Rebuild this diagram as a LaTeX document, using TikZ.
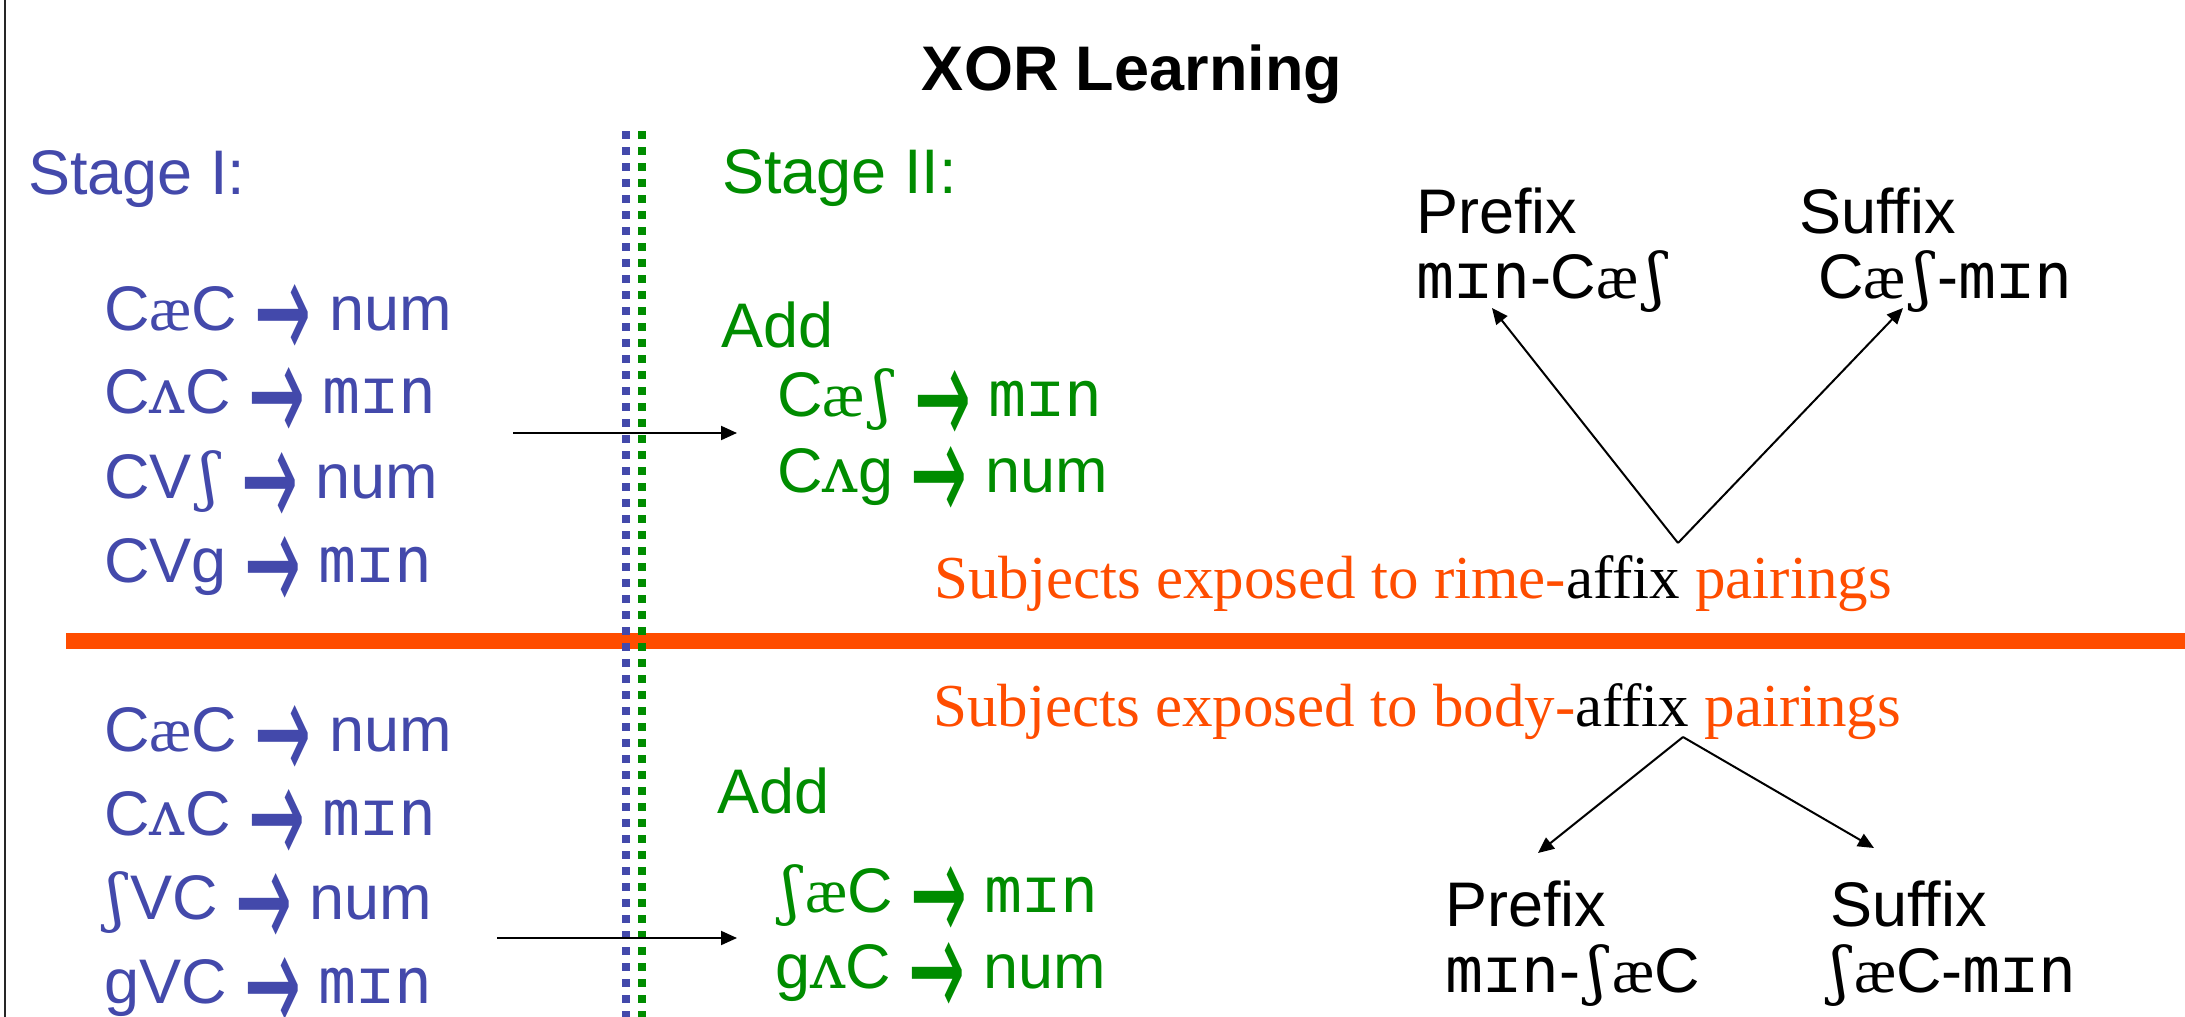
\documentclass[tikz,border=0pt]{standalone}
\usepackage{fontspec}
\usepackage{graphicx}
\setmainfont{Liberation Sans}
\newfontfamily\serifface{Liberation Serif}
\newfontfamily\ipamono{DejaVu Sans Mono}
\newfontfamily\ipaserif{DejaVu Serif}
\newfontfamily\arrowface{DejaVu Sans}
\usetikzlibrary{arrows.meta}

\definecolor{stageblue}{RGB}{67,73,171}
\definecolor{stagegreen}{RGB}{0,140,0}
\definecolor{rimeorange}{RGB}{255,77,0}

% IPA symbols, the affix word and the rule arrow
\newcommand\mIn{{\ipamono mɪn}}
\newcommand\vV{{\ipaserif ʌ}}
\newcommand\vae{{\serifface æ}}
\newcommand\csh{{\kern9pt\ipaserif ʃ\kern6pt}}
\newcommand\yields{\smash{\raisebox{-30pt}{\resizebox{57pt}{76pt}{\arrowface →}}}}

\tikzset{
  lbl/.style={inner sep=0pt, anchor=base west, font=\fontsize{63}{70}\selectfont},
  blue/.style={lbl, text=stageblue},
  green/.style={lbl, text=stagegreen},
  note/.style={inner sep=0pt, anchor=base west, font=\serifface\fontsize{61}{70}\selectfont},
  conn/.style={line width=2pt, -{Triangle[length=16pt,width=14pt]}},
  divider/.style={line width=8pt, dash pattern=on 8pt off 8pt},
}

\begin{document}
\begin{tikzpicture}[x=1pt, y=-1pt]
\fill[white] (0,0) rectangle (2185,1017);
\useasboundingbox (0,0) rectangle (2185,1017);

% frame edge and the horizontal separator
\draw[line width=2pt, black!85] (5,0) -- (5,1017);
\draw[line width=16pt, rimeorange] (66,641) -- (2185,641);

% title
\node[inner sep=0pt, anchor=base, font=\fontsize{63}{70}\selectfont\bfseries] (title) at (1132,90) {XOR Learning};

% stage I
\node[blue] (st1) at (28,194) {Stage I:};
\node[blue] (a1) at (104,330) {C\vae C \yields{} num};
\node[blue] (a2) at (104,413) {C\vV C \yields{} \mIn};
\node[blue] (a3) at (104,498) {CV\csh{} \yields{} num};
\node[blue] (a4) at (104,582) {CVg \yields{} \mIn};
\node[blue] (b1) at (104,751) {C\vae C \yields{} num};
\node[blue] (b2) at (104,835) {C\vV C \yields{} \mIn};
\node[blue] (b3) at (98,919) {\csh VC \yields{} num};
\node[blue] (b4) at (104,1003) {gVC \yields{} \mIn};

% stage II
\node[green] (st2) at (722,193) {Stage II:};
\node[green] (addA) at (721,347) {Add};
\node[green] (c1) at (777,416) {C\vae\csh{} \yields{} \mIn};
\node[green] (c2) at (777,492) {C\vV g \yields{} num};
\node[green] (addB) at (717,813) {Add};
\node[green] (d1) at (773,912) {\csh\vae C \yields{} \mIn};
\node[green] (d2) at (775,988) {g\vV C \yields{} num};

% affix positions
\node[lbl] (preA) at (1416,233) {Prefix};
\node[lbl] (preAw) at (1416,298) {\mIn-C\vae\csh};
\node[lbl] (sufA) at (1799,233) {Suffix};
\node[lbl] (sufAw) at (1818,298) {C\vae\csh-\mIn};
\node[lbl] (preB) at (1445,926) {Prefix};
\node[lbl] (preBw) at (1445,992) {\mIn-\csh\vae C};
\node[lbl] (sufB) at (1830,926) {Suffix};
\node[lbl] (sufBw) at (1822,992) {\csh\vae C-\mIn};

% conditions
\node[note] (rime) at (934,598) {\textcolor{rimeorange}{Subjects exposed to rime-}affix \textcolor{rimeorange}{pairings}};
\node[note] (body) at (933,726) {\textcolor{rimeorange}{Subjects exposed to body-}affix \textcolor{rimeorange}{pairings}};

% stage boundary
\draw[divider, stageblue] (626,131) -- (626,1017);
\draw[divider, stagegreen] (642,131) -- (642,1017);

% connectors
\coordinate (fromA) at (513,433);
\coordinate (toA) at (737,433);
\coordinate (fromB) at (497,938);
\coordinate (toB) at (737,938);
\draw[conn] (fromA) -- (toA);
\draw[conn] (fromB) -- (toB);

\coordinate (apexA) at (1678,543);
\coordinate (tipPreA) at (1492,308);
\coordinate (tipSufA) at (1903,308);
\draw[conn] (apexA) -- (tipPreA);
\draw[conn] (apexA) -- (tipSufA);

\coordinate (apexB) at (1683,737);
\coordinate (tipPreB) at (1538,853);
\coordinate (tipSufB) at (1874,848);
\draw[conn] (apexB) -- (tipPreB);
\draw[conn] (apexB) -- (tipSufB);
\end{tikzpicture}
\end{document}
